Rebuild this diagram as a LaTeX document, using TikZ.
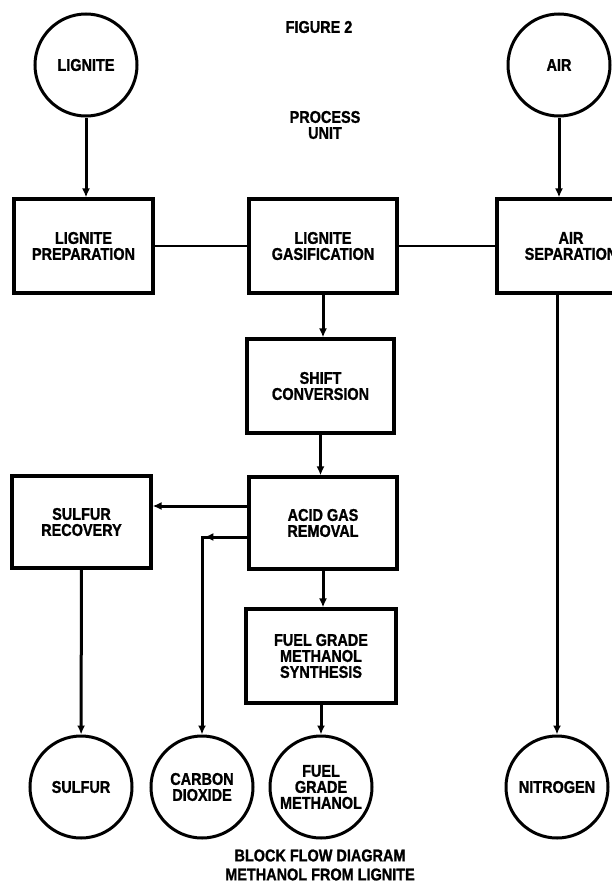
\documentclass[tikz,border=0pt]{standalone}
\usepackage{fontspec}
\newfontfamily\flowfont[FakeStretch=0.85,FakeBold=1.2]{Liberation Sans}
\usetikzlibrary{arrows.meta,decorations.markings}
\tikzset{
  unit/.style={draw,line width=3.2pt,minimum width=148pt,minimum height=94pt,inner sep=0pt,align=center},
  stream/.style={draw,circle,line width=3pt,minimum size=102pt,inner sep=0pt,align=center},
  flow/.style={line width=3pt,-{Latex[length=9pt,width=8pt]}},
  tie/.style={line width=2.2pt}
}
\begin{document}
\begin{tikzpicture}[x=1pt,y=-1pt,font=\flowfont\bfseries\fontsize{17}{16}\selectfont]
\useasboundingbox (0,0) rectangle (611,886);
\node (fig) at (319,27) {FIGURE 2};
\node[stream] (lig) at (86,65) {LIGNITE};
\node[stream] (air) at (559,65) {AIR};
\node[align=center] (pu) at (325,125) {PROCESS\\UNIT};
\node[unit,minimum width=139pt] (prep) at (83.5,246) {LIGNITE\\PREPARATION};
\node[unit] (gas) at (323,246) {LIGNITE\\GASIFICATION};
\node[unit] (asep) at (571,246) {AIR\\SEPARATION};
\node[unit,minimum width=147pt] (shift) at (320.5,386) {SHIFT\\CONVERSION};
\node[unit,minimum height=92pt] (acid) at (323,523) {ACID GAS\\REMOVAL};
\node[unit,minimum width=139pt,minimum height=92pt] (srec) at (81.5,522) {SULFUR\\RECOVERY};
\node[unit,minimum width=150pt] (syn) at (321,656) {FUEL GRADE\\METHANOL\\SYNTHESIS};
\node[stream] (sul) at (81,787) {SULFUR};
\node[stream] (co) at (202,787) {CARBON\\DIOXIDE};
\node[stream] (meoh) at (321,787) {FUEL\\GRADE\\METHANOL};
\node[stream] (nit) at (557,787) {NITROGEN};
\node[align=center] (cap) at (320,865) {BLOCK FLOW DIAGRAM\\[3pt]METHANOL FROM LIGNITE};
\coordinate (sout) at ([yshift=17pt]acid.west);
\coordinate (cout) at ([yshift=-14pt]acid.west);
\draw[flow] (lig) -- (lig |- prep.north);
\draw[flow] (air) -- (air |- asep.north);
\draw[tie] (prep) -- (gas);
\draw[tie] (gas) -- (asep);
\draw[flow] (gas.south) -- (gas.south |- shift.north);
\draw[flow] (shift) -- (shift |- acid.north);
\draw[flow] (sout) -- (sout -| srec.east);
\draw[flow,postaction={decorate},decoration={markings,
  mark=at position 43pt with {\arrow{Latex[length=9pt,width=8pt]}}}] (cout) -| (co);
\draw[flow] (srec) -- (sul);
\draw[flow] (acid.south) -- (acid.south |- syn.north);
\draw[flow] (syn) -- (meoh);
\draw[flow] (nit |- asep.south) -- (nit);
\end{tikzpicture}
\end{document}
